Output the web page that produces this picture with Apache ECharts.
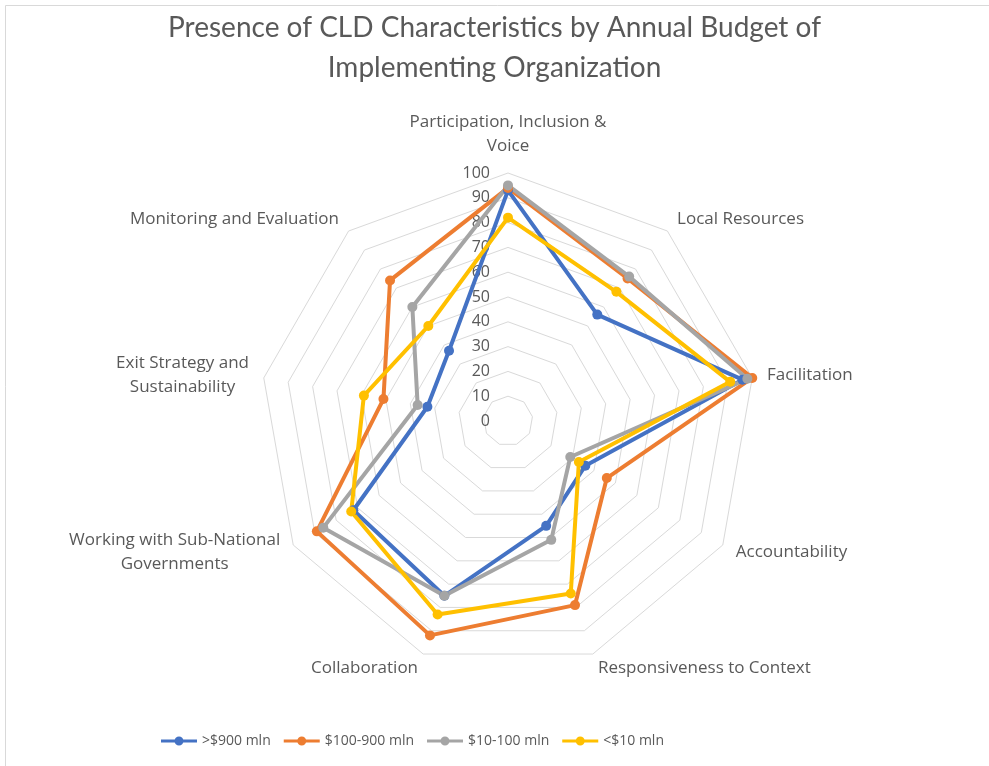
<!DOCTYPE html>
<html>
<head>
<meta charset="utf-8">
<title>Presence of CLD Characteristics</title>
<script src="https://cdn.jsdelivr.net/npm/echarts@6/dist/echarts.min.js"></script>
<style>
  html, body { margin: 0; padding: 0; background: #ffffff; }
  #chart { width: 989px; height: 766px; }
</style>
</head>
<body>
<div id="chart"></div>
<script>
// Characteristics, listed clockwise starting from the top spoke
const categories = [
  'Participation, Inclusion &\nVoice',
  'Local Resources',
  'Facilitation',
  'Accountability',
  'Responsiveness to Context',
  'Collaboration',
  'Working with Sub-National\nGovernments',
  'Exit Strategy and\nSustainability',
  'Monitoring and Evaluation'
];

const seriesNames = ['>$900 mln', '$100-900 mln', '$10-100 mln', '<$10 mln'];

// Percentage of projects showing each characteristic, per budget band
const over900 = [93, 56, 96, 36, 45, 75, 72, 33, 37];
const from100to900 = [94, 75, 100, 46, 79, 92, 89, 51, 74];
const from10to100 = [95, 76, 98, 29, 51, 75, 86, 37, 60];
const under10 = [82, 68, 91, 33, 74, 83, 73, 59, 50];

const axisMin = 0;
const axisMax = 100;
const axisSteps = 10;

const colors = ['#4472C4', '#ED7D31', '#A5A5A5', '#FFC000'];
const textColor = '#595959';
const titleFont = 'Lato, "Open Sans", sans-serif';
const bodyFont = '"Open Sans", Lato, sans-serif';
const labelSize = 17;

// ECharts lays radar spokes counter-clockwise, so keep the first and reverse the rest
const order = [0].concat(categories.map((_, i) => i).slice(1).reverse());
const reorder = arr => order.map(i => arr[i]);

const indicator = reorder(categories).map((name, i) => {
  const ind = { name: name, min: axisMin, max: axisMax };
  if (i === 0) {
    // value scale printed beside the top spoke only
    ind.axisLabel = {
      show: true,
      color: textColor,
      fontSize: 16,
      fontFamily: bodyFont,
      align: 'right',
      padding: [0, 10, 0, 0],
      showMinLabel: true,
      showMaxLabel: true
    };
  }
  return ind;
});

const seriesValues = [over900, from100to900, from10to100, under10];

const legendIcon = 'path://M0,3.5H36V6.5H0Z M13.5,5A4.5,4.5,0,1,1,22.5,5A4.5,4.5,0,1,1,13.5,5Z';

const chart = echarts.init(document.getElementById('chart'), null, { renderer: 'canvas' });

chart.setOption({
  backgroundColor: '#ffffff',
  animation: false,
  color: colors,
  title: {
    text: 'Presence of CLD Characteristics by Annual Budget of\nImplementing Organization',
    left: 'center',
    top: 3,
    textStyle: {
      color: textColor,
      fontSize: 28,
      fontWeight: 'normal',
      fontFamily: titleFont,
      lineHeight: 40
    }
  },
  legend: {
    top: 729,
    left: 156,
    itemGap: 13,
    itemWidth: 36,
    itemHeight: 10,
    data: seriesNames.map(n => ({ name: n, icon: legendIcon })),
    textStyle: { color: textColor, fontSize: 14, fontFamily: bodyFont }
  },
  graphic: [{
    type: 'rect',
    silent: true,
    shape: { x: 5.5, y: 5.5, width: 1000, height: 800 },
    style: { fill: 'none', stroke: '#d9d9d9', lineWidth: 1 }
  }],
  radar: {
    center: [508, 421],
    radius: 248,
    startAngle: 90,
    splitNumber: axisSteps,
    shape: 'polygon',
    indicator: indicator,
    nameGap: 15,
    axisName: {
      color: textColor,
      fontSize: labelSize,
      fontFamily: bodyFont,
      formatter: function (name) {
        return name.split('\n').map(l => '{c|' + l + '}').join('\n');
      },
      rich: {
        c: { fontSize: labelSize, fontFamily: bodyFont, color: textColor, align: 'center', lineHeight: 24 }
      }
    },
    axisLine: { show: false },
    axisTick: { show: false },
    axisLabel: { show: false },
    splitLine: { lineStyle: { color: '#d9d9d9', width: 1 } },
    splitArea: { show: false }
  },
  series: [{
    type: 'radar',
    symbol: 'circle',
    symbolSize: 10,
    data: seriesNames.map((name, i) => ({
      name: name,
      value: reorder(seriesValues[i]),
      lineStyle: { color: colors[i], width: 4 },
      itemStyle: { color: colors[i] }
    }))
  }]
});
</script>
</body>
</html>
